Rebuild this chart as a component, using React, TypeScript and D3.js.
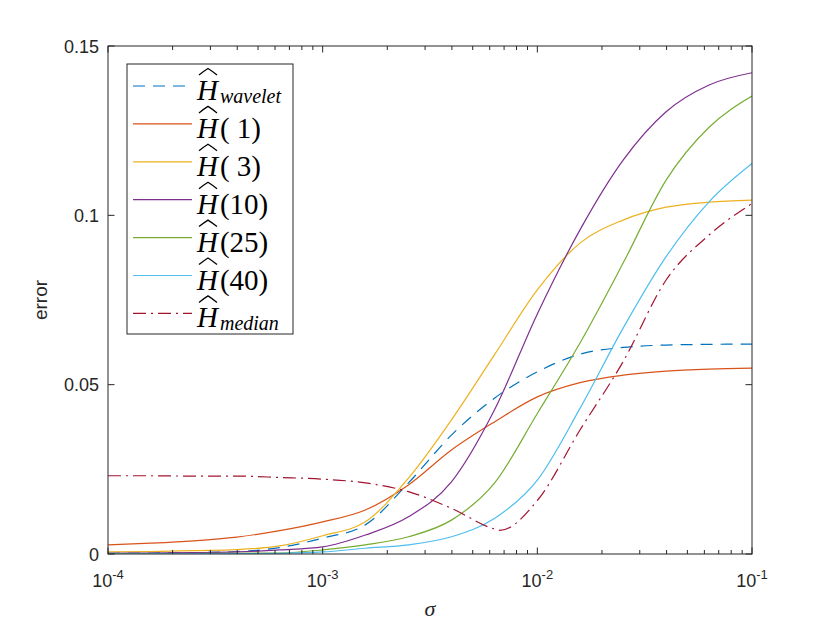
import * as d3 from "d3";

// sampling grid (sigma), 0.2 decades apart
const sigma = [
  1e-4, 1.58e-4, 2.51e-4, 3.98e-4, 6.31e-4, 1e-3, 1.58e-3, 2.51e-3, 3.98e-3,
  6.31e-3, 1e-2, 1.58e-2, 2.51e-2, 3.98e-2, 6.31e-2, 1e-1,
];

const errWavelet = [
  0.0003, 0.0003, 0.0004, 0.0007, 0.0019, 0.0047, 0.0086, 0.021, 0.0351,
  0.046, 0.0538, 0.059, 0.061, 0.0617, 0.0619, 0.062,
];
const errH1 = [
  0.0027, 0.0032, 0.0039, 0.005, 0.0069, 0.0095, 0.013, 0.0204, 0.0307, 0.039,
  0.0464, 0.0506, 0.0528, 0.054, 0.0546, 0.0549,
];
const errH3 = [
  0.0006, 0.0007, 0.001, 0.0013, 0.0024, 0.0054, 0.0095, 0.0224, 0.0396,
  0.0588, 0.078, 0.0918, 0.0986, 0.1024, 0.1039, 0.1045,
];
const errH10 = [
  0.0002, 0.0003, 0.0004, 0.0006, 0.0012, 0.0021, 0.0056, 0.011, 0.0213,
  0.0425, 0.0709, 0.0957, 0.1163, 0.1306, 0.1385, 0.1421,
];
const errH25 = [
  0.0001, 0.0001, 0.00015, 0.0002, 0.0003, 0.0012, 0.0027, 0.0051, 0.01,
  0.0209, 0.0415, 0.0623, 0.0859, 0.1104, 0.126, 0.1352,
];
const errH40 = [
  0.00005, 0.00005, 0.0001, 0.0001, 0.0002, 0.0006, 0.0017, 0.0027, 0.0051,
  0.0105, 0.0218, 0.043, 0.0667, 0.0878, 0.104, 0.1153,
];

// the median curve has an extra sample at its dip
const medianSigma = [
  1e-4, 1.58e-4, 2.51e-4, 3.98e-4, 6.31e-4, 1e-3, 1.58e-3, 2.51e-3, 3.98e-3,
  6.31e-3, 6.7e-3, 1e-2, 1.58e-2, 2.51e-2, 3.98e-2, 6.31e-2, 1e-1,
];
const errMedian = [
  0.0231, 0.0231, 0.023, 0.023, 0.0226, 0.0221, 0.021, 0.0184, 0.0135, 0.0074,
  0.007, 0.0158, 0.0366, 0.0568, 0.0809, 0.0942, 0.1035,
];

const yTicks = [0, 0.05, 0.1, 0.15];
const yTickLabels = ["0", "0.05", "0.1", "0.15"];
const xTickExps = ["-4", "-3", "-2", "-1"];

const series = [
  { name: "wavelet", sub: true, xs: sigma, ys: errWavelet, color: "#0072BD", dash: "12 8" },
  { name: "( 1)", sub: false, xs: sigma, ys: errH1, color: "#D95319", dash: "" },
  { name: "( 3)", sub: false, xs: sigma, ys: errH3, color: "#EDB120", dash: "" },
  { name: "(10)", sub: false, xs: sigma, ys: errH10, color: "#7E2F8E", dash: "" },
  { name: "(25)", sub: false, xs: sigma, ys: errH25, color: "#77AC30", dash: "" },
  { name: "(40)", sub: false, xs: sigma, ys: errH40, color: "#4DBEEE", dash: "" },
  { name: "median", sub: true, xs: medianSigma, ys: errMedian, color: "#A2142F", dash: "13 5 2 5" },
];

const axisColor = "#262626";
const sans = "'Liberation Sans', Arial, sans-serif";
const serif = "'Liberation Serif', 'Times New Roman', serif";

export default function App() {
  const left = 108,
    right = 752,
    top = 46,
    bottom = 554;

  const x = d3.scaleLog().domain([1e-4, 1e-1]).range([left, right]);
  const y = d3.scaleLinear().domain([0, 0.15]).range([bottom, top]);

  const line = d3
    .line<[number, number]>()
    .x((d) => x(d[0]))
    .y((d) => y(d[1]))
    .curve(d3.curveMonotoneX);

  const ticks = x.ticks();
  const majors = [1e-4, 1e-3, 1e-2, 1e-1];

  const legX = 127,
    legY = 64,
    legW = 166,
    legH = 270;
  const rowH = 37.9;

  return (
    <svg
      width={830}
      height={623}
      viewBox="0 0 830 623"
      style={{ position: "absolute", left: 0, top: 0, background: "white" }}
    >
      <defs>
        <clipPath id="plotArea">
          <rect x={left} y={top} width={right - left} height={bottom - top} />
        </clipPath>
      </defs>
      <rect x={0} y={0} width={830} height={623} fill="white" />

      {/* curves */}
      <g clipPath="url(#plotArea)">
        {series.map((s, i) => (
          <path
            key={i}
            d={line(s.xs.map((v, j) => [v, s.ys[j]] as [number, number])) || ""}
            fill="none"
            stroke={s.color}
            strokeWidth={1.2}
            strokeDasharray={s.dash || undefined}
          />
        ))}
      </g>

      {/* box */}
      <rect
        x={left}
        y={top}
        width={right - left}
        height={bottom - top}
        fill="none"
        stroke={axisColor}
        strokeWidth={1}
      />

      {/* x ticks, bottom and top */}
      {ticks.map((t, i) => {
        const isMajor = majors.some((m) => Math.abs(m - t) / m < 1e-6);
        const len = isMajor ? 6.5 : 4;
        const px = x(t);
        return (
          <g key={i} stroke={axisColor} strokeWidth={1}>
            <line x1={px} x2={px} y1={bottom} y2={bottom - len} />
            <line x1={px} x2={px} y1={top} y2={top + len} />
          </g>
        );
      })}
      {majors.map((m, i) => (
        <text
          key={i}
          x={x(m)}
          y={587}
          textAnchor="middle"
          fontFamily={sans}
          fontSize={18}
          fill={axisColor}
        >
          10
          <tspan fontSize={13} dy={-8}>
            {xTickExps[i]}
          </tspan>
        </text>
      ))}

      {/* y ticks, left and right */}
      {yTicks.map((t, i) => (
        <g key={i}>
          <line x1={left} x2={left + 6.5} y1={y(t)} y2={y(t)} stroke={axisColor} />
          <line x1={right} x2={right - 6.5} y1={y(t)} y2={y(t)} stroke={axisColor} />
          <text
            x={99}
            y={y(t) + 6.5}
            textAnchor="end"
            fontFamily={sans}
            fontSize={18}
            fill={axisColor}
          >
            {yTickLabels[i]}
          </text>
        </g>
      ))}

      {/* axis labels */}
      <text
        x={430}
        y={616}
        textAnchor="middle"
        fontFamily={serif}
        fontStyle="italic"
        fontSize={22}
        fill={axisColor}
      >
        σ
      </text>
      <text
        transform="translate(47,300) rotate(-90)"
        textAnchor="middle"
        fontFamily={sans}
        fontSize={19}
        fill={axisColor}
      >
        error
      </text>

      {/* legend */}
      <rect
        x={legX}
        y={legY}
        width={legW}
        height={legH}
        fill="white"
        stroke={axisColor}
        strokeWidth={1}
      />
      {series.map((s, i) => {
        const cy = 86 + i * rowH;
        const base = cy + 14;
        const hx = 197;
        return (
          <g key={i}>
            <line
              x1={133}
              x2={192}
              y1={cy}
              y2={cy}
              stroke={s.color}
              strokeWidth={1.2}
              strokeDasharray={s.dash || undefined}
            />
            <path
              d={`M${hx + 2},${base - 25} Q${hx + 7},${base - 29} ${hx + 11},${base - 31.5} Q${hx + 15},${base - 29} ${hx + 20},${base - 25}`}
              fill="none"
              stroke="black"
              strokeWidth={1.3}
            />
            <text x={hx} y={base} fontFamily={serif} fontSize={29} fill="black">
              <tspan fontStyle="italic">H</tspan>
              {s.sub ? (
                <tspan fontStyle="italic" fontSize={20} dx={2} dy={3}>
                  {s.name}
                </tspan>
              ) : (
                <tspan dx={2} style={{ whiteSpace: "pre" }}>
                  {s.name}
                </tspan>
              )}
            </text>
          </g>
        );
      })}
    </svg>
  );
}
